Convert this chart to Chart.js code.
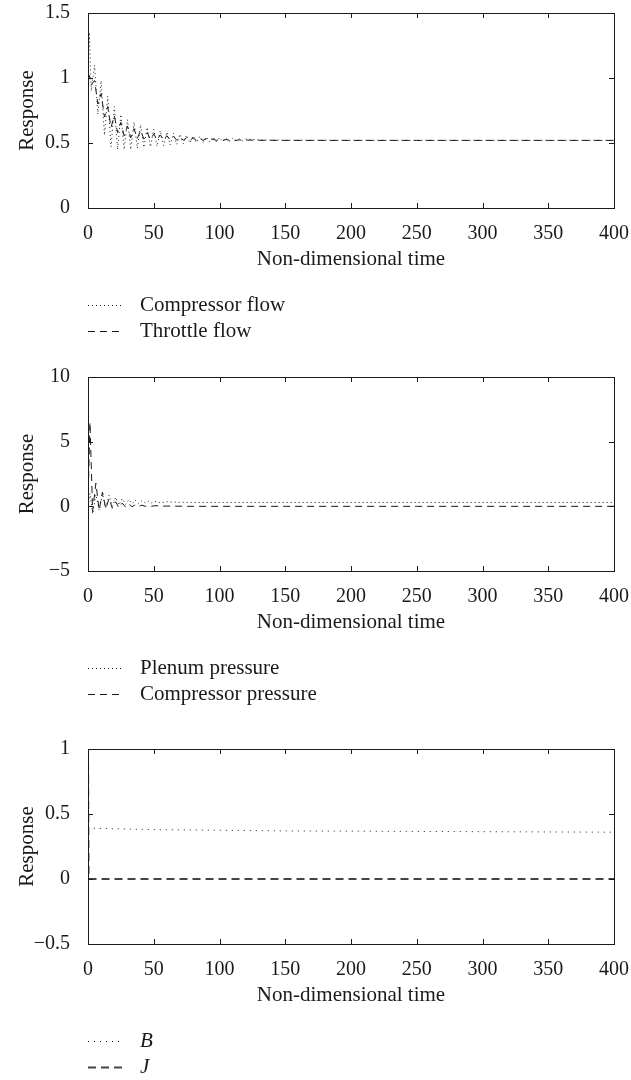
<!DOCTYPE html>
<html>
<head>
<meta charset="utf-8">
<title>Compressor response</title>
<script src="https://cdn.jsdelivr.net/npm/chart.js@4.4.0/dist/chart.umd.min.js"></script>
<style>
  body { margin: 0; background: #fff; }
  canvas { position: absolute; left: 0; }
</style>
</head>
<body>
<canvas id="flowChart" width="631" height="360" style="top:0px"></canvas>
<canvas id="pressureChart" width="631" height="360" style="top:360px"></canvas>
<canvas id="bjChart" width="631" height="360" style="top:720px"></canvas>
<script>
// panel 1: flows
var flowTime = [0, 1, 2.5, 5, 7.5, 10, 12.5, 15, 17.5, 20, 22.5, 25, 27.5, 30, 32.5, 35, 37.5, 40,
    42.5, 45, 47.5, 50, 52.5, 55, 57.5, 60, 62.5, 65, 67.5, 70, 72.5, 75, 77.5, 80, 82.5, 85,
    87.5, 90, 92.5, 95, 97.5, 100, 102.5, 105, 107.5, 110, 112.5, 115, 117.5, 120,
    130, 150, 200, 250, 300, 350, 400];
var compressorFlow = [1.05, 1.35, 0.90, 1.10, 0.72, 0.98, 0.56, 0.86, 0.47, 0.78, 0.45, 0.72, 0.45, 0.68,
    0.45, 0.66, 0.46, 0.64, 0.465, 0.62, 0.47, 0.605, 0.475, 0.595, 0.48, 0.585, 0.485, 0.575, 0.49, 0.568,
    0.495, 0.562, 0.50, 0.556, 0.503, 0.552, 0.506, 0.548, 0.508, 0.545, 0.51, 0.542, 0.512, 0.539, 0.514,
    0.536, 0.516, 0.533, 0.517, 0.531, 0.524, 0.522, 0.521, 0.52, 0.52, 0.52, 0.52];
var throttleFlow = [1.0, 1.02, 0.95, 0.98, 0.80, 0.88, 0.70, 0.78, 0.62, 0.71, 0.58, 0.66, 0.555, 0.63,
    0.54, 0.61, 0.535, 0.595, 0.53, 0.58, 0.528, 0.57, 0.525, 0.562, 0.524, 0.556, 0.523, 0.55, 0.522, 0.545,
    0.521, 0.541, 0.521, 0.538, 0.52, 0.535, 0.52, 0.532, 0.52, 0.53, 0.52, 0.528, 0.52, 0.527, 0.52,
    0.525, 0.52, 0.524, 0.52, 0.523, 0.521, 0.52, 0.52, 0.52, 0.52, 0.52, 0.52];

// panel 2: pressures
var pressureTime = [0, 1.5, 3.5, 6, 8.5, 11, 13.5, 16, 18.5, 21, 23.5, 26, 28.5, 31, 33.5, 36, 38.5, 41,
    43.5, 46, 48.5, 51, 55, 60, 70, 80, 100, 150, 200, 250, 300, 350, 400];
var plenumPressure = [0, 1.0, -0.6, 0.9, -0.3, 0.95, -0.1, 0.85, 0.0, 0.7, 0.1, 0.6, 0.15, 0.52, 0.2, 0.47,
    0.22, 0.43, 0.25, 0.4, 0.26, 0.38, 0.28, 0.35, 0.31, 0.3, 0.3, 0.3, 0.3, 0.3, 0.3, 0.3, 0.3];
var compressorPressure = [0.3, 6.5, -0.4, 1.8, -0.3, 1.1, -0.2, 0.6, -0.15, 0.35, -0.1, 0.25, -0.05, 0.18,
    -0.03, 0.12, 0, 0.09, 0, 0.06, 0.01, 0.05, 0.02, 0.02, 0.01, 0, 0, 0, 0, 0, 0, 0, 0];

// panel 3: B and J
var bTime = [0, 3, 50, 100, 150, 200, 250, 300, 350, 400];
var bValues = [0.40, 0.39, 0.38, 0.375, 0.37, 0.368, 0.366, 0.364, 0.362, 0.36];
var jTime = [0, 0.4, 50, 100, 200, 300, 400];
var jValues = [1, 0, 0, 0, 0, 0, 0];

var xTicks = { min: 0, max: 400, step: 50 };
var ink = '#1a1a1a';
var serif = '"Liberation Serif", "Times New Roman", serif';

Chart.defaults.font.family = serif;
Chart.defaults.font.size = 20;
Chart.defaults.color = ink;

function pts(xs, ys) {
    return xs.map(function (x, i) { return { x: x, y: ys[i] }; });
}

function minusSign(v) {
    return String(v).replace('-', '\u2212');
}

// box, inward ticks on all four sides, and a stacked legend under the x title
function framePlugin(italic) {
    return {
        id: 'frame',
        afterDraw: function (chart) {
            var ctx = chart.ctx, a = chart.chartArea;
            var xs = chart.scales.x, ys = chart.scales.y;
            ctx.save();
            ctx.strokeStyle = ink;
            ctx.lineWidth = 1;
            ctx.strokeRect(Math.round(a.left) + 0.5, Math.round(a.top) + 0.5,
                Math.round(a.right - a.left), Math.round(a.bottom - a.top));
            ctx.beginPath();
            xs.ticks.forEach(function (t) {
                var px = Math.round(xs.getPixelForValue(t.value)) + 0.5;
                ctx.moveTo(px, a.bottom); ctx.lineTo(px, a.bottom - 5);
                ctx.moveTo(px, a.top); ctx.lineTo(px, a.top + 5);
            });
            ys.ticks.forEach(function (t) {
                var py = Math.round(ys.getPixelForValue(t.value)) + 0.5;
                ctx.moveTo(a.left, py); ctx.lineTo(a.left + 5, py);
                ctx.moveTo(a.right, py); ctx.lineTo(a.right - 5, py);
            });
            ctx.stroke();

            chart.data.datasets.forEach(function (ds, i) {
                var y = Math.round(a.bottom + 97 + i * 26) + 0.5;
                ctx.beginPath();
                ctx.setLineDash(ds.borderDash || []);
                ctx.lineWidth = ds.borderWidth;
                ctx.strokeStyle = ds.borderColor;
                ctx.moveTo(88, y);
                ctx.lineTo(123, y);
                ctx.stroke();
                ctx.setLineDash([]);
                ctx.fillStyle = ink;
                ctx.font = (italic ? 'italic ' : '') + '21px ' + serif;
                ctx.textBaseline = 'middle';
                ctx.fillText(ds.label, 140, y);
            });
            ctx.restore();
        }
    };
}

function makeChart(id, datasets, yMin, yMax, yStep, padTop, padBottom, italic) {
    return new Chart(document.getElementById(id), {
        type: 'line',
        data: { datasets: datasets },
        options: {
            responsive: false,
            animation: false,
            layout: { padding: { top: padTop, bottom: padBottom, left: 0, right: 17 } },
            elements: { point: { radius: 0 }, line: { tension: 0 } },
            plugins: { legend: { display: false }, tooltip: { enabled: false } },
            scales: {
                x: {
                    type: 'linear',
                    min: xTicks.min,
                    max: xTicks.max,
                    grid: { display: false },
                    border: { display: false },
                    ticks: { stepSize: xTicks.step, padding: 6, maxRotation: 0 },
                    title: { display: true, text: 'Non-dimensional time', font: { size: 21 }, padding: { top: 0, bottom: 0 } },
                    afterFit: function (s) { s.height = 64; s.paddingLeft = 0; s.paddingRight = 0; }
                },
                y: {
                    min: yMin,
                    max: yMax,
                    grid: { display: false },
                    border: { display: false },
                    ticks: { stepSize: yStep, padding: 10, callback: minusSign },
                    title: { display: true, text: 'Response', font: { size: 21 }, padding: { top: 15, bottom: 0 } },
                    afterFit: function (s) { s.width = 88; s.paddingTop = 0; s.paddingBottom = 0; }
                }
            }
        },
        plugins: [framePlugin(italic)]
    });
}

makeChart('flowChart', [
    { label: 'Compressor flow', data: pts(flowTime, compressorFlow), borderColor: ink, borderWidth: 1, borderDash: [1, 3] },
    { label: 'Throttle flow', data: pts(flowTime, throttleFlow), borderColor: ink, borderWidth: 1, borderDash: [7, 5] }
], 0, 1.5, 0.5, 13, 88, false);

makeChart('pressureChart', [
    { label: 'Plenum pressure', data: pts(pressureTime, plenumPressure), borderColor: ink, borderWidth: 1, borderDash: [1, 3] },
    { label: 'Compressor pressure', data: pts(pressureTime, compressorPressure), borderColor: ink, borderWidth: 1, borderDash: [7, 5] }
], -5, 10, 5, 17, 85, false);

makeChart('bjChart', [
    { label: 'B', data: pts(bTime, bValues), borderColor: ink, borderWidth: 1, borderDash: [1, 5] },
    { label: 'J', data: pts(jTime, jValues), borderColor: '#444', borderWidth: 2, borderDash: [8, 5] }
], -0.5, 1, 0.5, 29, 72, true);
</script>
</body>
</html>
